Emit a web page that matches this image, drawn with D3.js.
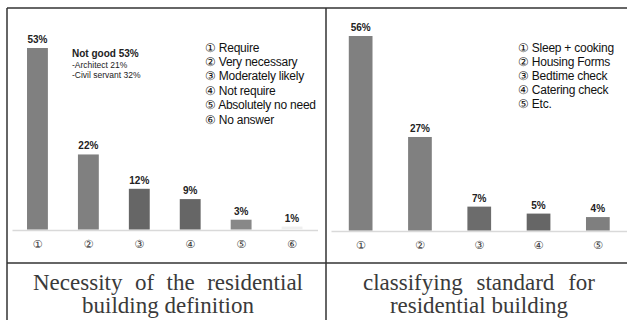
<!DOCTYPE html>
<html lang="en">
  <head>
    <meta charset="utf-8" />
    <title>Residential building survey</title>
    <script src="https://d3js.org/d3.v7.min.js"></script>
    <style>
      body { margin: 0; background: #fff; }
      svg { display: block; }
    </style>
  </head>
  <body>
    <svg id="chart" width="627" height="320"></svg>

    <script>
      // left panel data
      const leftCats = ["①", "②", "③", "④", "⑤", "⑥"];
      const leftValues = [53, 22, 12, 9, 3, 1];
      const leftColors = ["#808080", "#808080", "#666666", "#666666", "#888888", "#efefef"];
      const leftLegend = ["① Require", "② Very necessary", "③ Moderately likely",
                          "④ Not require", "⑤ Absolutely no need", "⑥ No answer"];
      const leftNote = ["Not good 53%", "-Architect 21%", "-Civil servant 32%"];
      const leftCaption = ["Necessity of the residential", "building definition"];

      // right panel data
      const rightCats = ["①", "②", "③", "④", "⑤"];
      const rightValues = [56, 27, 7, 5, 4];
      const rightColors = ["#808080", "#808080", "#6c6c6c", "#666666", "#7f7f7f"];
      const rightLegend = ["① Sleep + cooking", "② Housing Forms", "③ Bedtime check",
                           "④ Catering check", "⑤ Etc."];
      const rightCaption = ["classifying standard for", "residential building"];

      const svg = d3.select("#chart");
      const sans = "'Liberation Sans', Arial, sans-serif";
      const serif = "'Liberation Serif', 'DejaVu Serif', serif";

      function drawPanel(cfg) {
        const g = svg.append("g");

        const x = d3.scaleBand()
          .domain(cfg.cats)
          .range(cfg.xRange)
          .paddingInner(cfg.padIn)
          .paddingOuter(cfg.padIn / 2);

        const y = d3.scaleLinear()
          .domain([0, d3.max(cfg.values)])
          .range([cfg.base, cfg.top]);

        // baseline + circled category labels
        const axis = g.append("g")
          .attr("transform", `translate(0,${cfg.base})`)
          .call(d3.axisBottom(x).tickSize(0).tickPadding(10));
        axis.select(".domain").attr("stroke", "#d9d9d9").attr("stroke-width", 1.5);
        axis.selectAll("text")
          .attr("font-family", "'DejaVu Sans', sans-serif")
          .attr("font-size", 11)
          .attr("fill", "#333");

        const data = cfg.cats.map((c, i) => ({ c: c, v: cfg.values[i], col: cfg.colors[i] }));

        g.selectAll("rect.bar")
          .data(data)
          .join("rect")
          .attr("class", "bar")
          .attr("x", d => x(d.c))
          .attr("width", x.bandwidth())
          .attr("y", d => y(d.v))
          .attr("height", d => cfg.base - y(d.v) - 0.5)
          .attr("fill", d => d.col);

        g.selectAll("text.val")
          .data(data)
          .join("text")
          .attr("class", "val")
          .attr("x", d => x(d.c) + x.bandwidth() / 2)
          .attr("y", d => y(d.v) - 5)
          .attr("text-anchor", "middle")
          .attr("font-family", sans)
          .attr("font-weight", "bold")
          .attr("font-size", 10)
          .attr("fill", "#222")
          .text(d => d.v + "%");

        // legend list
        g.selectAll("text.leg")
          .data(cfg.legend)
          .join("text")
          .attr("class", "leg")
          .attr("x", cfg.legX)
          .attr("y", (d, i) => cfg.legY + i * cfg.legStep)
          .attr("font-family", sans)
          .attr("font-size", 12)
          .attr("letter-spacing", -0.25)
          .attr("fill", "#111")
          .text(d => d);

        // caption, first line justified to the cell
        cfg.caption.forEach((line, i) => {
          const t = g.append("text")
            .attr("y", cfg.capY + i * 23)
            .attr("font-family", serif)
            .attr("font-size", 23)
            .attr("fill", "#3a3a3a")
            .text(line);
          if (i === 0) {
            const words = line.split(" ").length;
            const natural = t.node().getComputedTextLength();
            const extra = (cfg.capW - natural) / (words - 1);
            t.attr("word-spacing", extra).attr("x", cfg.capCx - cfg.capW / 2);
          } else {
            t.attr("x", cfg.capCx).attr("text-anchor", "middle");
          }
        });

        return g;
      }

      const left = drawPanel({
        cats: leftCats, values: leftValues, colors: leftColors,
        xRange: [12, 317.5], padIn: 0.59, base: 230, top: 48,
        legend: leftLegend, legX: 205, legY: 51.5, legStep: 14.4,
        caption: leftCaption, capCx: 168, capW: 270, capY: 290
      });

      // note next to the first bar
      left.selectAll("text.note")
        .data(leftNote)
        .join("text")
        .attr("class", "note")
        .attr("x", 72)
        .attr("y", (d, i) => i === 0 ? 57 : 57 + i * 10.5)
        .attr("font-family", sans)
        .attr("font-weight", (d, i) => i === 0 ? "bold" : "normal")
        .attr("font-size", (d, i) => i === 0 ? 10 : 8.5)
        .attr("fill", "#222")
        .text(d => d);

      drawPanel({
        cats: rightCats, values: rightValues, colors: rightColors,
        xRange: [331, 627.5], padIn: 0.6, base: 231, top: 36,
        legend: rightLegend, legX: 518, legY: 51.5, legStep: 14.2,
        caption: rightCaption, capCx: 479, capW: 232, capY: 290
      });

      // table borders
      const lines = [
        [7, 8, 627, 8], [7, 263, 627, 263],
        [7, 8, 7, 320], [326, 8, 326, 320]
      ];
      svg.selectAll("line.border")
        .data(lines)
        .join("line")
        .attr("class", "border")
        .attr("x1", d => d[0]).attr("y1", d => d[1])
        .attr("x2", d => d[2]).attr("y2", d => d[3])
        .attr("stroke", "#333")
        .attr("stroke-width", 1.5);
    </script>
  </body>
</html>
